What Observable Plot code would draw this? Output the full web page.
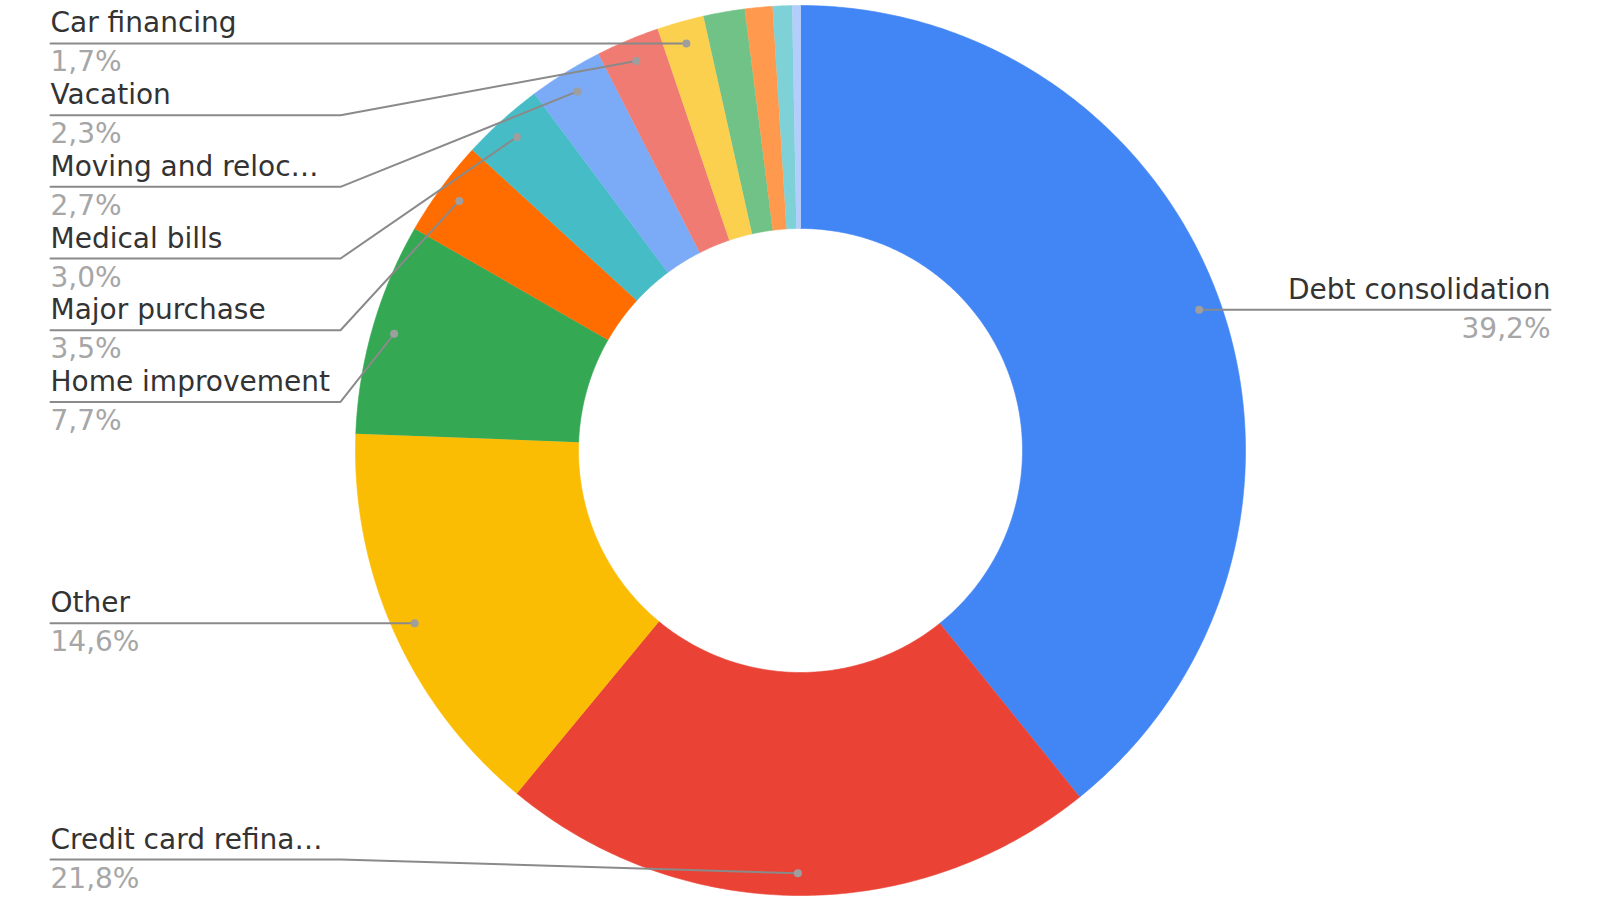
<!DOCTYPE html>
<html><head><meta charset="utf-8">
<script src="https://cdn.jsdelivr.net/npm/d3@7"></script>
<script src="https://cdn.jsdelivr.net/npm/@observablehq/plot@0.6"></script>
<style>html,body{margin:0;padding:0;background:#fff;} #chart svg{display:block;}</style>
</head><body><div id="chart"></div>
<script>
// ---- data ----
const categories = ["Debt consolidation","Credit card refinancing","Other","Home improvement","Major purchase","Medical bills","Moving and relocation","Vacation","Car financing","Small business","Home buying","Wedding","Renewable energy"];
const shownLabels = ["Debt consolidation","Credit card refina…","Other","Home improvement","Major purchase","Medical bills","Moving and reloc…","Vacation","Car financing","","","",""];
const shares = [39.2, 21.8, 14.6, 7.7, 3.5, 3.0, 2.7, 2.3, 1.7, 1.5, 1.0, 0.7, 0.3];
const colors = ["#4285F4","#EA4335","#FBBC04","#34A853","#FF6D01","#46BDC6","#7BAAF7","#F07B72","#FCD04F","#71C287","#FF994D","#7ED1D7","#B3CEFB"];

// ---- layout ----
const W = 1600, H = 901;
const cx = 800, cy = 450, R = 445, r0 = 222, rDot = 0.95 * R;
const leftX = 50, elbowX = 340, rightX = 1550, spacing = 71.7, maxLineY = 859, minLineY = 20;

const pie = d3.pie().sort(null).value(d => d.value)(categories.map((name, i) => ({name, label: shownLabels[i], value: shares[i]})));
const px = (a, rr) => cx + rr * Math.sin(a);
const py = (a, rr) => cy - rr * Math.cos(a);

const slicePts = [];
for (const s of pie) {
  const n = Math.max(2, Math.ceil((s.endAngle - s.startAngle) / (Math.PI / 360)));
  for (let k = 0; k <= n; k++) { const a = s.startAngle + (s.endAngle - s.startAngle) * k / n; slicePts.push({name: s.data.name, x: px(a, R), y: py(a, R)}); }
  for (let k = n; k >= 0; k--) { const a = s.startAngle + (s.endAngle - s.startAngle) * k / n; slicePts.push({name: s.data.name, x: px(a, r0), y: py(a, r0)}); }
}

const labeled = pie.filter(s => s.data.label).map(s => {
  const mid = (s.startAngle + s.endAngle) / 2;
  return {name: s.data.name, label: s.data.label, pct: s.data.value.toFixed(1).replace(".", ",") + "%",
    side: mid < Math.PI ? "right" : "left", dx: px(mid, rDot), dy: py(mid, rDot)};
});
for (const side of ["left", "right"]) {
  const g = labeled.filter(d => d.side === side).sort((a, b) => a.dy - b.dy);
  let prev = -Infinity;
  for (const d of g) { d.ly = Math.max(d.dy, prev + spacing, minLineY); prev = d.ly; }
  let next = Infinity;
  for (let i = g.length - 1; i >= 0; i--) { g[i].ly = Math.min(g[i].ly, next - spacing, maxLineY); next = g[i].ly; }
}
const leaderPts = [];
for (const d of labeled) {
  if (d.side === "left") {
    leaderPts.push({name: d.name, x: leftX, y: d.ly}, {name: d.name, x: elbowX, y: d.ly}, {name: d.name, x: d.dx, y: d.dy});
  } else {
    leaderPts.push({name: d.name, x: d.dx, y: d.dy}, {name: d.name, x: rightX, y: d.ly});
  }
  d.tx = d.side === "left" ? leftX : rightX;
  d.nameY = d.ly - 11;
  d.pctY = d.ly + 28;
}
const leftLabels = labeled.filter(d => d.side === "left");
const rightLabels = labeled.filter(d => d.side === "right");
const nameStyle = {lineAnchor: "bottom", fontSize: 28, fill: "#333"};
const pctStyle = {lineAnchor: "bottom", fontSize: 28, fill: "#a6a6a6"};

const chart = Plot.plot({
  width: W, height: H, margin: 0,
  x: {domain: [0, W], range: [0, W], axis: null},
  y: {domain: [0, H], range: [0, H], axis: null},
  color: {domain: categories, range: colors},
  style: {background: "#fff", fontFamily: "'DejaVu Sans', sans-serif"},
  marks: [
    Plot.line(slicePts, {x: "x", y: "y", z: "name", fill: "name", stroke: "name", strokeWidth: 0.6, curve: "linear"}),
    Plot.line(leaderPts, {x: "x", y: "y", z: "name", stroke: "#8a8a8a", strokeWidth: 2, curve: "linear"}),
    Plot.dot(labeled, {x: "dx", y: "dy", r: 4, fill: "#9e9e9e", stroke: "none"}),
    Plot.text(leftLabels, {x: "tx", y: "nameY", text: "label", textAnchor: "start", ...nameStyle}),
    Plot.text(rightLabels, {x: "tx", y: "nameY", text: "label", textAnchor: "end", ...nameStyle}),
    Plot.text(leftLabels, {x: "tx", y: "pctY", text: "pct", textAnchor: "start", ...pctStyle}),
    Plot.text(rightLabels, {x: "tx", y: "pctY", text: "pct", textAnchor: "end", ...pctStyle})
  ]
});
document.getElementById("chart").appendChild(chart);
</script>
</body></html>
